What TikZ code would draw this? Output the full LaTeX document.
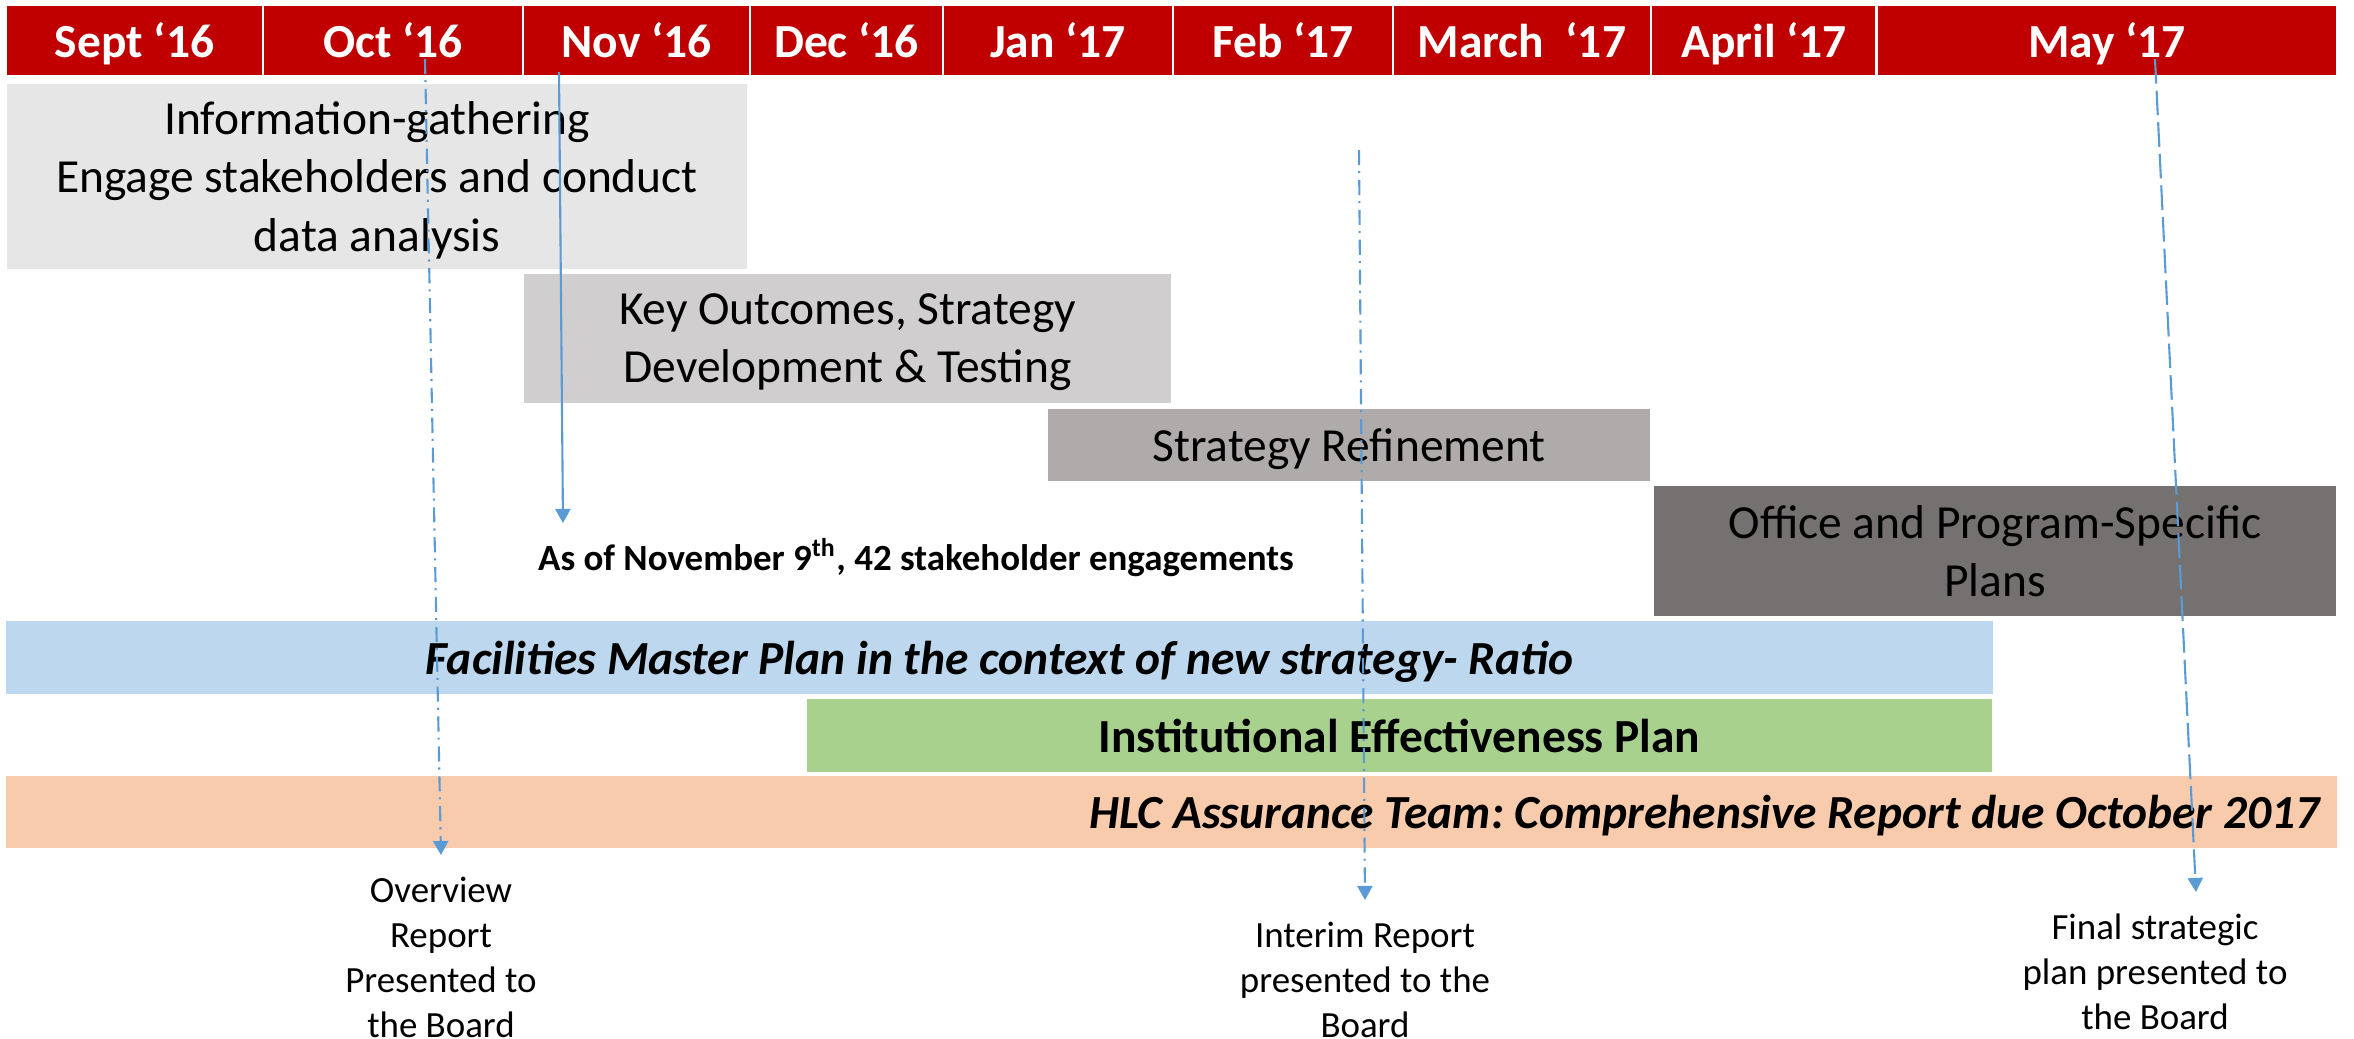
\documentclass[tikz,border=0pt]{standalone}
\usepackage{fontspec}
\setmainfont{Carlito}
\usetikzlibrary{arrows.meta}
\frenchspacing

\definecolor{hdrred}{HTML}{C00000}
\definecolor{gatherfill}{HTML}{E7E6E6}
\definecolor{keyfill}{HTML}{D0CECE}
\definecolor{refinefill}{HTML}{AFABAB}
\definecolor{officefill}{HTML}{767171}
\definecolor{facilfill}{HTML}{BDD7EE}
\definecolor{effectfill}{HTML}{A9D18E}
\definecolor{hlcfill}{HTML}{F8CBAD}
\definecolor{markblue}{HTML}{5B9BD5}

\tikzset{
    month/.style={draw=white, line width=0.8pt, fill=hdrred, text=white, font=\fontsize{13.5}{16.5}\selectfont\bfseries, minimum height=0.71cm, inner sep=0pt, text height=9.4pt, text depth=0pt},
    phase/.style={draw=white, line width=0.6pt, align=center, font=\fontsize{13.5}{16.5}\selectfont, inner sep=0pt, text depth=0pt},
    board/.style={align=center, font=\fontsize{10.5}{12.8}\selectfont, anchor=north, inner sep=6pt},
    milestone/.style={draw=markblue, line width=0.6pt},
    dashdotline/.style={milestone, dash pattern=on 4.3pt off 1.7pt on 0.6pt off 1.9pt},
    longdashline/.style={milestone, dash pattern=on 7pt off 2pt},
}

\begin{document}
\begin{tikzpicture}[x=0.01cm, y=-0.01cm, >={Triangle[length=4pt, width=4.3pt]}]
    \useasboundingbox (0, 0) rectangle (2354, 1038);

    \node[month, minimum width=2.57cm] (sept) at (134.5, 40.5) {Sept ‘16};
    \node[month, minimum width=2.60cm] (oct) at (393, 40.5) {Oct ‘16};
    \node[month, minimum width=2.27cm] (nov) at (636.5, 40.5) {Nov ‘16};
    \node[month, minimum width=1.93cm] (dec) at (846.5, 40.5) {Dec ‘16};
    \node[month, minimum width=2.30cm] (jan) at (1058, 40.5) {Jan ‘17};
    \node[month, minimum width=2.20cm] (feb) at (1283, 40.5) {Feb ‘17};
    \node[month, minimum width=2.58cm] (march) at (1522, 40.5) {March\ \ ‘17};
    \node[month, minimum width=2.26cm] (april) at (1764, 40.5) {April ‘17};
    \node[month, minimum width=4.60cm] (may) at (2107, 40.5) {May ‘17};

    \node[phase, fill=gatherfill, minimum width=7.42cm, minimum height=1.87cm] (gather) at (377, 176.5) {Information-gathering\\Engage stakeholders and conduct\\data analysis};
    \node[phase, fill=keyfill, minimum width=6.49cm, minimum height=1.31cm] (keyout) at (847.5, 338.5) {Key Outcomes, Strategy\\Development \& Testing};
    \node[phase, fill=refinefill, minimum width=6.04cm, minimum height=0.74cm] (refine) at (1349, 445) {Strategy Refinement};
    \node[phase, fill=officefill, minimum width=6.84cm, minimum height=1.32cm] (office) at (1995, 551) {Office and Program-Specific\\Plans};

    \node[font=\fontsize{10.5}{12.8}\selectfont\bfseries, anchor=base] (engage) at (916, 570) {As of November 9\textsuperscript{th}, 42 stakeholder engagements};

    \node[phase, fill=facilfill, minimum width=19.87cm, minimum height=0.75cm, font=\fontsize{13.5}{16.5}\selectfont\bfseries\itshape] (facil) at (999.5, 657.5) {Facilities Master Plan in the context of new strategy- Ratio};
    \node[phase, fill=effectfill, minimum width=11.87cm, minimum height=0.75cm, font=\fontsize{13.5}{16.5}\selectfont\bfseries] (effect) at (1399.5, 735.5) {Institutional Effectiveness Plan};
    \node[phase, fill=hlcfill, minimum height=0.74cm, text width=22.95cm, inner xsep=0.18cm, align=flush right, font=\fontsize{13.5}{16.5}\selectfont\bfseries\itshape] (hlc) at (1171.5, 812) {HLC Assurance Team: Comprehensive Report due October 2017};

    \node[board] (overview) at (441, 855) {Overview\\Report\\Presented to\\the Board};
    \node[board] (interim) at (1365, 900) {Interim Report\\presented to the\\Board};
    \node[board] (final) at (2155, 892) {Final strategic\\plan presented to\\the Board};

    \coordinate (octtop) at (425, 59);
    \coordinate (novtop) at (559, 72);
    \coordinate (novend) at (563, 523);
    \coordinate (febtop) at (1359, 150);
    \coordinate (maytop) at (2155, 59);
    \coordinate (mayend) at (2196, 892);

    \draw[->, dashdotline] (octtop) to (overview.north);
    \draw[->, milestone] (novtop) to (novend);
    \draw[->, dashdotline] (febtop) to (interim.north);
    \draw[->, longdashline] (maytop) to (mayend);
\end{tikzpicture}
\end{document}
